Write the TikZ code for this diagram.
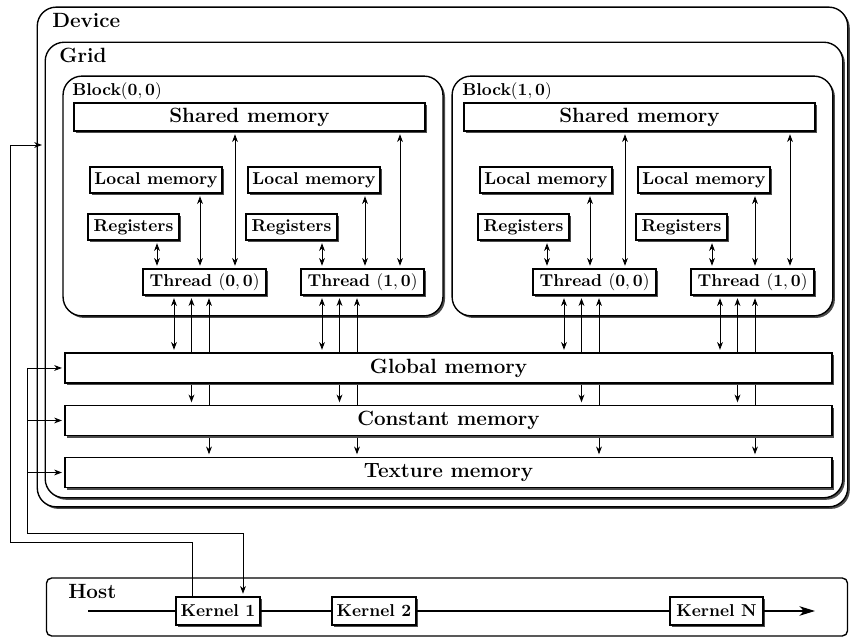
\documentclass[tikz,border=0pt]{standalone}
\usetikzlibrary{arrows.meta,shadows}

\pgfdeclarelayer{frames}
\pgfdeclarelayer{wires}
\pgfsetlayers{frames,wires,main}

\begin{document}
\begin{tikzpicture}[
    x=0.02045cm,y=-0.02045cm,
    every node/.style={font=\bfseries},
    >={Stealth[length=4.5pt,width=3.4pt,inset=1.4pt]},
    boxshadow/.style={drop shadow={shadow xshift=1.2pt,shadow yshift=-1.2pt,opacity=1,fill=black!70}},
    frame/.style={draw=black, line width=0.8pt, rounded corners=11pt, fill=white, boxshadow},
    membox/.style={draw=black, line width=0.8pt, fill=white, boxshadow, inner sep=1pt},
    cell/.style={membox, minimum height=15.1pt},
    wide/.style={membox, font=\bfseries\large, minimum height=17.4pt, minimum width=446pt},
    kernelbox/.style={membox, minimum width=48.8pt, minimum height=16.3pt},
    title/.style={font=\bfseries\large, anchor=base west, inner sep=0pt},
    tag/.style={anchor=base west, inner sep=0pt},
    wire/.style={line width=0.5pt, shorten <=1.5pt, shorten >=1.5pt}
]
    \useasboundingbox (0,0) rectangle (850,637);

    \begin{pgfonlayer}{frames}
        \node[frame, minimum width=471.5pt, minimum height=290.7pt] (device) at (442.5,257) {};
        \node[frame, minimum width=464pt, minimum height=265pt] (grid) at (444,270) {};
        \node[frame, minimum width=221pt, minimum height=139.5pt] (block0) at (253,196) {};
        \node[frame, minimum width=221.5pt, minimum height=139.5pt] (block1) at (642.5,196) {};
        \node[draw, line width=0.8pt, rounded corners=3pt, minimum width=466pt, minimum height=33.7pt] (host) at (447,607) {};
    \end{pgfonlayer}

    \node[title] (devlabel) at (52,28) {Device};
    \node[title] (gridlabel) at (59,63) {Grid};
    \node[title] (hostlabel) at (68,599) {Host};

    % blocks and their threads
    \foreach \b/\dx in {0/0,1/390} {
        \node[tag] (blocklabel\b) at (72+\dx,96) {Block$(\mathbf{\b},\mathbf{0})$};
        \node[membox, font=\bfseries\large, minimum width=204pt, minimum height=16.3pt] (shared\b) at (249.5+\dx,117) {Shared memory};
        \foreach \t/\tx/\ax in {0/0/0,1/158/165} {
            \node[cell, minimum width=76.7pt] (local\b\t) at (156+\dx+\tx,180) {Local memory};
            \node[cell, minimum width=52.9pt] (regs\b\t) at (133.5+\dx+\tx,227) {Registers};
            \node[cell, minimum width=71.5pt] (thread\b\t) at (204.5+\dx+\tx,282) {Thread $(\mathbf{\t},\mathbf{0})$};
            \draw[wire,<->] (157+\dx+\ax,0 |- regs\b\t.south) -- (157+\dx+\ax,0 |- thread\b\t.north);
            \draw[wire,<->] (200+\dx+\ax,0 |- local\b\t.south) -- (200+\dx+\ax,0 |- thread\b\t.north);
            \draw[wire,<->] (235+\dx+\ax,0 |- shared\b.south) -- (235+\dx+\ax,0 |- thread\b\t.north);
        }
    }

    \node[wide] (global) at (448.5,368) {Global memory};
    \node[wide] (constant) at (448.5,420.5) {Constant memory};
    \node[wide] (texture) at (448.5,472.5) {Texture memory};

    \begin{pgfonlayer}{wires}
        \foreach \x/\thr in {174/thread00,322/thread01,564/thread10,720/thread11} {
            \draw[wire,<->] (\x,0 |- \thr.south) -- (\x,0 |- global.north);
            \draw[wire,<->] (\x+17.5,0 |- \thr.south) -- (\x+17.5,0 |- constant.north);
            \draw[wire,<->] (\x+35,0 |- \thr.south) -- (\x+35,0 |- texture.north);
        }
    \end{pgfonlayer}

    % host side
    \node[kernelbox] (kernel1) at (218,611) {Kernel 1};
    \node[kernelbox] (kernel2) at (374,611) {Kernel 2};
    \node[kernelbox, minimum width=54pt] (kernelN) at (716.5,611) {Kernel N};
    \coordinate (start) at (88,611);
    \coordinate (stop) at (815,611);
    \draw[line width=0.8pt] (start) -- (kernel1) (kernel1) -- (kernel2) (kernel2) -- (kernelN);
    \draw[line width=0.8pt, -{Stealth[length=9pt,width=5.5pt,inset=2.5pt]}] (kernelN) -- (stop);

    \draw[wire, shorten <=0pt, ->] (192,0 |- kernel1.north) -- (192,542) -- (10,542) -- (10,145) -- (10,145 -| grid.west);
    \draw[wire, shorten <=0pt, ->] (27,0 |- global.west) -- (27,533) -- (243,533) -- (243,0 |- kernel1.north);
    \foreach \m in {global,constant,texture}
        \draw[wire, shorten <=0pt, ->] (27,0 |- \m.west) -- (\m.west);
\end{tikzpicture}
\end{document}
